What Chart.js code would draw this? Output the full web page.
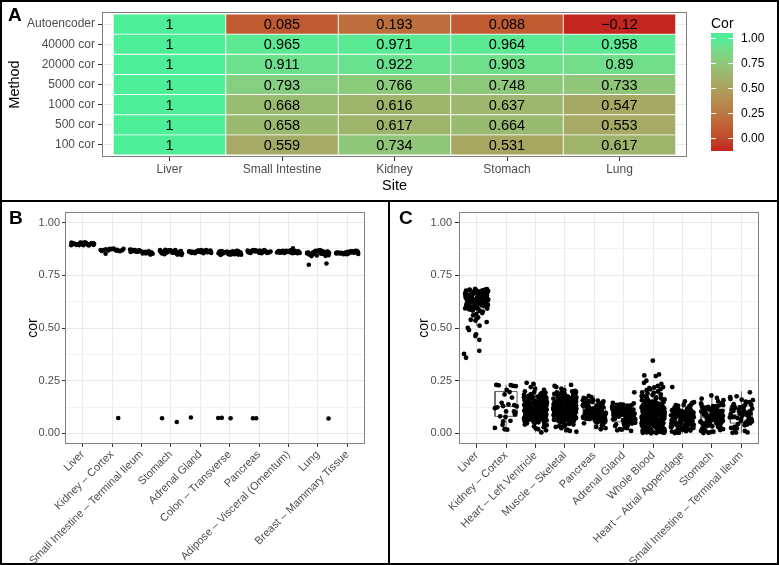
<!DOCTYPE html>
<html>
<head>
<meta charset="utf-8">
<script src="https://cdn.jsdelivr.net/npm/chart.js"></script>
<style>
  body { margin: 0; background: #fff; }
  #wrap { position: relative; width: 779px; height: 565px; overflow: hidden; font-family: "Liberation Sans", Arial, sans-serif; }
  canvas { position: absolute; }
  .frame { position: absolute; box-sizing: border-box; border: 2px solid #000; pointer-events: none; }
  .tag { position: absolute; font-weight: bold; font-size: 19px; line-height: 19px; }
</style>
</head>
<body>
<div id="wrap">
  <canvas id="heat" width="779" height="202" style="left:0;top:0"></canvas>
  <canvas id="gtexB" width="389" height="365" style="left:0;top:200px"></canvas>
  <canvas id="gtexC" width="390" height="365" style="left:389px;top:200px"></canvas>
  <div class="frame" style="left:0;top:0;width:779px;height:202px"></div>
  <div class="frame" style="left:0;top:200px;width:390px;height:365px"></div>
  <div class="frame" style="left:388px;top:200px;width:391px;height:365px"></div>
  <div class="tag" style="left:8px;top:5px">A</div>
  <div class="tag" style="left:9px;top:208px">B</div>
  <div class="tag" style="left:399px;top:208px">C</div>
</div>
<script>
// ---------- panel A : correlation per site and method ----------
var sites = ['Liver', 'Small Intestine', 'Kidney', 'Stomach', 'Lung'];
var methods = ['100 cor', '500 cor', '1000 cor', '5000 cor', '20000 cor', '40000 cor', 'Autoencoder'];
var cor100 = [1, 0.559, 0.734, 0.531, 0.617];
var cor500 = [1, 0.658, 0.617, 0.664, 0.553];
var cor1000 = [1, 0.668, 0.616, 0.637, 0.547];
var cor5000 = [1, 0.793, 0.766, 0.748, 0.733];
var cor20000 = [1, 0.911, 0.922, 0.903, 0.89];
var cor40000 = [1, 0.965, 0.971, 0.964, 0.958];
var corAuto = [1, 0.085, 0.193, 0.088, -0.12];
var legendTicks = [0, 0.25, 0.5, 0.75, 1];

// ---------- panels B and C : per sample correlation ----------
var yGrid = [0, 0.125, 0.25, 0.375, 0.5, 0.625, 0.75, 0.875, 1];
var yMajor = [0, 0.25, 0.5, 0.75, 1];
var yLabels = ['0.00', '0.25', '0.50', '0.75', '1.00'];
// horizontal jitter positions (in category units) reused for every group
var jitter = [-0.31, 0.12, 0.37, -0.05, 0.24, -0.38, 0.02, 0.29, -0.18, 0.33, -0.26, 0.08, -0.12, 0.39, -0.35, 0.17, -0.02, 0.21, -0.29, 0.05,
  0.35, -0.21, 0.14, -0.08, 0.27, -0.39, 0.1, -0.15, 0.31, -0.24, 0.01, 0.19, -0.33, 0.26, -0.1, 0.38, -0.19, 0.07, -0.36, 0.22,
  -0.04, 0.3, -0.27, 0.15, -0.13, 0.34, -0.22, 0.04, 0.25, -0.37, 0.11, -0.07, 0.36, -0.16, 0.2, -0.3, 0.09, -0.01, 0.28, -0.23, 0.16];

var bCats = ['Liver', 'Kidney – Cortex', 'Small Intestine – Terminal Ileum', 'Stomach', 'Adrenal Gland', 'Colon – Transverse',
  'Pancreas', 'Adipose – Visceral (Omentum)', 'Lung', 'Breast – Mammary Tissue'];
var bLiver = [0.899, 0.903, 0.894, 0.901, 0.897, 0.905, 0.892, 0.9, 0.896, 0.902, 0.898, 0.906, 0.893, 0.899, 0.901, 0.895, 0.904, 0.891, 0.9, 0.897, 0.903, 0.894, 0.899, 0.905, 0.898, 0.892, 0.901, 0.896, 0.9, 0.897];
var bKidney = [0.872, 0.868, 0.876, 0.865, 0.871, 0.874, 0.866, 0.87, 0.877, 0.869, 0.873, 0.867, 0.875, 0.864, 0.87];
var bSmallInt = [0.861, 0.868, 0.855, 0.872, 0.858, 0.864, 0.85, 0.869, 0.862, 0.856, 0.871, 0.859, 0.866, 0.852, 0.863, 0.857, 0.87, 0.86, 0.865, 0.849, 0.867, 0.854, 0.862, 0.858, 0.869, 0.853, 0.864, 0.86, 0.856, 0.866];
var bStomach = [0.86, 0.867, 0.853, 0.871, 0.857, 0.863, 0.848, 0.868, 0.861, 0.855, 0.87, 0.858, 0.865, 0.85, 0.862, 0.856, 0.869, 0.859, 0.864, 0.846, 0.866, 0.852, 0.861, 0.857, 0.868, 0.851, 0.863, 0.859, 0.854, 0.865];
var bAdrenal = [0.862, 0.867, 0.857, 0.869, 0.86, 0.864, 0.855, 0.867, 0.861, 0.858, 0.87, 0.856, 0.865, 0.86, 0.863, 0.857, 0.866, 0.861, 0.864, 0.856, 0.867, 0.859, 0.862, 0.86, 0.865, 0.855, 0.863, 0.861, 0.858, 0.864];
var bColon = [0.856, 0.862, 0.849, 0.865, 0.853, 0.859, 0.846, 0.863, 0.857, 0.851, 0.866, 0.854, 0.86, 0.848, 0.858, 0.852, 0.864, 0.855, 0.861, 0.847, 0.862, 0.85, 0.857, 0.853, 0.864, 0.849, 0.859, 0.856, 0.852, 0.861];
var bPancreas = [0.862, 0.867, 0.857, 0.87, 0.86, 0.865, 0.855, 0.868, 0.863, 0.858, 0.869, 0.859, 0.866, 0.856, 0.864, 0.859, 0.868, 0.861, 0.865, 0.856, 0.867, 0.858, 0.863, 0.86, 0.866, 0.857, 0.864, 0.861, 0.859, 0.865];
var bAdipose = [0.861, 0.865, 0.857, 0.867, 0.859, 0.863, 0.855, 0.866, 0.86, 0.858, 0.868, 0.856, 0.864, 0.859, 0.862, 0.857, 0.865, 0.86, 0.863, 0.856, 0.866, 0.858, 0.861, 0.859, 0.864, 0.855, 0.862, 0.878, 0.857, 0.863];
var bLung = [0.855, 0.862, 0.846, 0.867, 0.851, 0.858, 0.842, 0.864, 0.856, 0.848, 0.869, 0.853, 0.86, 0.844, 0.857, 0.85, 0.865, 0.854, 0.861, 0.841, 0.863, 0.847, 0.856, 0.852, 0.866, 0.845, 0.859, 0.855, 0.849, 0.862];
var bBreast = [0.858, 0.863, 0.852, 0.866, 0.855, 0.86, 0.85, 0.864, 0.857, 0.853, 0.865, 0.854, 0.861, 0.851, 0.859, 0.855, 0.863, 0.856, 0.86, 0.85, 0.862, 0.853, 0.858, 0.856, 0.864, 0.851, 0.859, 0.857, 0.854, 0.861];
// stray samples of panel B (category, offset, value)
var bExtraCat = [1, 1, 3, 3, 4, 5, 5, 5, 6, 6, 8, 8, 8];
var bExtraOff = [0.21, -0.22, -0.3, 0.2, -0.32, -0.39, -0.27, 0.03, -0.21, -0.1, 0.36, -0.31, 0.29];
var bExtraVal = [0.073, 0.852, 0.072, 0.054, 0.076, 0.073, 0.074, 0.072, 0.072, 0.072, 0.071, 0.8, 0.806];
var bLo = [0.889, 0.864, 0.849, 0.846, 0.856, 0.846, 0.855, 0.855, 0.841, 0.85];
var bQ1 = [0.896, 0.868, 0.856, 0.855, 0.859, 0.852, 0.859, 0.858, 0.85, 0.854];
var bMed = [0.899, 0.871, 0.861, 0.86, 0.861, 0.857, 0.862, 0.861, 0.856, 0.858];
var bQ3 = [0.902, 0.874, 0.866, 0.865, 0.864, 0.861, 0.865, 0.864, 0.862, 0.861];
var bHi = [0.905, 0.877, 0.872, 0.871, 0.869, 0.866, 0.87, 0.868, 0.869, 0.866];

var cCats = ['Liver', 'Kidney – Cortex', 'Heart – Left Ventricle', 'Muscle – Skeletal', 'Pancreas', 'Adrenal Gland',
  'Whole Blood', 'Heart – Atrial Appendage', 'Stomach', 'Small Intestine – Terminal Ileum'];
var cLiver = [0.652, 0.618, 0.671, 0.595, 0.638, 0.664, 0.607, 0.681, 0.626, 0.645, 0.589, 0.659, 0.632, 0.676, 0.612, 0.648, 0.667, 0.578, 0.641, 0.622,
  0.684, 0.603, 0.655, 0.635, 0.669, 0.593, 0.628, 0.661, 0.615, 0.679, 0.644, 0.571, 0.657, 0.624, 0.673, 0.609, 0.639, 0.666, 0.598, 0.651,
  0.631, 0.682, 0.619, 0.647, 0.583, 0.662, 0.636, 0.674, 0.605, 0.643, 0.627, 0.668, 0.592, 0.654, 0.678, 0.613, 0.637, 0.566, 0.658, 0.621,
  0.672, 0.601, 0.649, 0.634, 0.685, 0.611, 0.653, 0.629, 0.663, 0.586, 0.648, 0.621, 0.669, 0.598, 0.636, 0.661, 0.609, 0.679, 0.628, 0.642,
  0.591, 0.656, 0.634, 0.673, 0.614, 0.646, 0.664, 0.581, 0.639, 0.625, 0.682, 0.606, 0.653, 0.633, 0.667, 0.596, 0.63, 0.659, 0.617, 0.677];
var cLiverLowOff = [-0.43, -0.36, 0.09, 0.09, -0.02, -0.04, -0.3, -0.26, -0.2, 0.34, 0.1, -0.04, 0.0, -0.12, 0.05];
var cLiverLowVal = [0.377, 0.359, 0.392, 0.444, 0.47, 0.462, 0.5, 0.49, 0.539, 0.528, 0.511, 0.535, 0.545, 0.56, 0.55];
var cKidneyOff = [-0.33, -0.25, 0.16, 0.24, 0.33, 0.02, 0.12, -0.05, 0.2, -0.15, -0.3, -0.38, -0.1, 0.08, 0.28, 0.36, 0.0, 0.27, 0.32, -0.2, -0.02, -0.1, -0.12, -0.38, -0.05, 0.04, 0.15, 0.3];
var cKidneyVal = [0.23, 0.228, 0.229, 0.226, 0.224, 0.206, 0.196, 0.185, 0.17, 0.145, 0.124, 0.12, 0.13, 0.138, 0.134, 0.128, 0.104, 0.104, 0.1, 0.081, 0.078, 0.057, 0.041, 0.026, 0.02, 0.018, 0.06, 0.09];
var cHeartLV = [0.112, 0.143, 0.081, 0.172, 0.053, 0.121, 0.188, 0.094, 0.152, 0.071, 0.133, 0.104, 0.178, 0.062, 0.161, 0.116, 0.042, 0.139, 0.197, 0.085,
  0.126, 0.148, 0.091, 0.167, 0.101, 0.129, 0.073, 0.158, 0.109, 0.056, 0.141, 0.186, 0.119, 0.083, 0.098, 0.153, 0.131, 0.064, 0.181, 0.092,
  0.114, 0.163, 0.034, 0.124, 0.137, 0.078, 0.207, 0.103, 0.127, 0.069, 0.174, 0.111, 0.149, 0.088, 0.122, 0.051, 0.191, 0.097, 0.144, 0.079,
  0.134, 0.157, 0.108, 0.061, 0.183, 0.118, 0.093, 0.151, 0.102, 0.024, 0.146, 0.123, 0.075, 0.169, 0.113, 0.128, 0.082, 0.199, 0.106, 0.154,
  0.045, 0.121, 0.162, 0.089, 0.139, 0.107, 0.058, 0.176, 0.132, 0.099, 0.235, 0.015, 0.22, 0.005, 0.24, 0.02, 0.212, 0.03,
  0.117, 0.086, 0.148, 0.063, 0.131, 0.097, 0.172, 0.108, 0.054, 0.139, 0.122, 0.078, 0.159, 0.101, 0.067, 0.144, 0.113, 0.185, 0.091, 0.126,
  0.048, 0.135, 0.104, 0.166, 0.082, 0.119, 0.153, 0.072, 0.109, 0.141, 0.095, 0.178, 0.061, 0.128, 0.087, 0.147, 0.116, 0.039, 0.133, 0.102,
  0.162, 0.076, 0.124, 0.092, 0.155, 0.068, 0.111, 0.193, 0.084, 0.137, 0.099, 0.059, 0.143, 0.115, 0.171, 0.081, 0.127, 0.106, 0.149, 0.073,
  0.12, 0.094, 0.164, 0.057, 0.132, 0.089, 0.114, 0.181, 0.066, 0.141];
var cMuscle = [0.121, 0.085, 0.152, 0.103, 0.176, 0.064, 0.138, 0.097, 0.189, 0.112, 0.045, 0.131, 0.158, 0.074, 0.117, 0.199, 0.092, 0.143, 0.058, 0.126,
  0.168, 0.081, 0.109, 0.147, 0.036, 0.134, 0.181, 0.068, 0.123, 0.095, 0.161, 0.052, 0.115, 0.139, 0.087, 0.194, 0.106, 0.072, 0.149, 0.128,
  0.025, 0.171, 0.098, 0.119, 0.061, 0.155, 0.136, 0.083, 0.186, 0.111, 0.047, 0.141, 0.102, 0.165, 0.076, 0.124, 0.093, 0.178, 0.132, 0.056,
  0.114, 0.153, 0.088, 0.197, 0.107, 0.069, 0.145, 0.127, 0.039, 0.162, 0.099, 0.118, 0.079, 0.174, 0.135, 0.091, 0.157, 0.066, 0.122, 0.184,
  0.104, 0.142, 0.053, 0.129, 0.096, 0.167, 0.113, 0.078, 0.151, 0.031, 0.137, 0.101, 0.191, 0.084, 0.125, 0.159, 0.071, 0.116, 0.146, 0.089,
  0.018, 0.212, 0.008, 0.225, 0.012, 0.205, 0.23, 0.22, 0.015, 0.202, 0.11, 0.13, 0.1, 0.14, 0.12, 0.09, 0.15, 0.06, 0.17, 0.04,
  0.118, 0.143, 0.091, 0.166, 0.073, 0.129, 0.104, 0.187, 0.061, 0.137, 0.112, 0.152, 0.084, 0.124, 0.198, 0.096, 0.141, 0.067, 0.115, 0.173,
  0.089, 0.132, 0.054, 0.157, 0.108, 0.127, 0.079, 0.183, 0.119, 0.099, 0.146, 0.065, 0.134, 0.111, 0.169, 0.086, 0.123, 0.042, 0.155, 0.101,
  0.138, 0.075, 0.192, 0.116, 0.093, 0.149, 0.058, 0.128, 0.106, 0.176, 0.082, 0.136, 0.121, 0.161, 0.071, 0.114, 0.148, 0.097, 0.181, 0.125,
  0.063, 0.142, 0.109, 0.154, 0.088, 0.131, 0.035, 0.167, 0.103, 0.139, 0.078, 0.119, 0.195, 0.092, 0.145, 0.113, 0.059, 0.158, 0.126, 0.084,
  0.171, 0.107, 0.133, 0.069, 0.151, 0.098, 0.122, 0.188, 0.081, 0.144];
var cPancreas = [0.095, 0.071, 0.122, 0.058, 0.108, 0.136, 0.083, 0.149, 0.067, 0.114, 0.091, 0.128, 0.052, 0.103, 0.142, 0.077, 0.118, 0.088, 0.155, 0.063,
  0.099, 0.131, 0.074, 0.111, 0.046, 0.125, 0.086, 0.145, 0.069, 0.106, 0.093, 0.138, 0.057, 0.119, 0.081, 0.164, 0.101, 0.072, 0.127, 0.089,
  0.113, 0.061, 0.134, 0.097, 0.078, 0.152, 0.105, 0.066, 0.121, 0.084, 0.038, 0.172, 0.025, 0.178, 0.031, 0.168, 0.02, 0.158, 0.042, 0.147,
  0.09, 0.11, 0.08, 0.12, 0.1, 0.07, 0.13, 0.06, 0.097, 0.074, 0.119, 0.061, 0.105, 0.133, 0.084, 0.146, 0.069, 0.112, 0.088, 0.126,
  0.055, 0.101, 0.139, 0.079, 0.116, 0.092, 0.153, 0.065, 0.108, 0.129, 0.076, 0.098, 0.048, 0.122, 0.087, 0.142, 0.071, 0.103,
  0.094, 0.135, 0.059, 0.114, 0.082, 0.157, 0.099, 0.068, 0.124, 0.09];
var cAdrenal = [0.085, 0.062, 0.108, 0.047, 0.096, 0.123, 0.071, 0.132, 0.055, 0.101, 0.079, 0.115, 0.041, 0.091, 0.127, 0.066, 0.104, 0.076, 0.138, 0.051,
  0.088, 0.118, 0.063, 0.098, 0.035, 0.112, 0.074, 0.129, 0.058, 0.094, 0.082, 0.121, 0.045, 0.106, 0.069, 0.135, 0.089, 0.061, 0.113, 0.078,
  0.099, 0.052, 0.119, 0.086, 0.067, 0.131, 0.093, 0.057, 0.109, 0.072, 0.021, 0.142, 0.015, 0.028, 0.012, 0.145, 0.025, 0.018, 0.195, 0.08,
  0.09, 0.07, 0.1, 0.06, 0.11, 0.087, 0.064, 0.106, 0.049, 0.094, 0.121, 0.073, 0.129, 0.057, 0.099, 0.081, 0.113, 0.043, 0.089, 0.125,
  0.068, 0.102, 0.077, 0.136, 0.053, 0.091, 0.116, 0.061, 0.096, 0.038, 0.111, 0.075, 0.127, 0.059, 0.092, 0.084, 0.119, 0.047, 0.104, 0.071,
  0.133, 0.088, 0.063, 0.109, 0.079];
var cBlood = [0.072, 0.041, 0.118, 0.025, 0.095, 0.153, 0.058, 0.132, 0.012, 0.087, 0.064, 0.109, 0.034, 0.176, 0.078, 0.049, 0.141, 0.019, 0.101, 0.067,
  0.125, 0.029, 0.084, 0.162, 0.053, 0.113, 0.008, 0.092, 0.137, 0.045, 0.071, 0.189, 0.038, 0.104, 0.061, 0.148, 0.016, 0.081, 0.121, 0.055,
  0.097, 0.005, 0.068, 0.133, 0.043, 0.171, 0.088, 0.022, 0.115, 0.059, 0.142, 0.033, 0.076, 0.106, 0.048, 0.199, 0.065, 0.127, 0.011, 0.093,
  0.052, 0.158, 0.037, 0.083, 0.119, 0.026, 0.074, 0.145, 0.057, 0.102, 0.003, 0.089, 0.182, 0.046, 0.128, 0.069, 0.018, 0.111, 0.062, 0.138,
  0.031, 0.079, 0.166, 0.051, 0.098, 0.014, 0.123, 0.066, 0.039, 0.107, 0.209, 0.021, 0.086, 0.151, 0.044, 0.116, 0.07, 0.006, 0.135, 0.054,
  0.215, 0.22, 0.205, 0.218, 0.21, 0.195, 0.002, 0.001, 0.004, 0.009, 0.28, 0.275, 0.272, 0.345, 0.235, 0.25, 0.225, 0.24,
  0.06, 0.08, 0.1, 0.04, 0.12, 0.09, 0.05, 0.07, 0.078, 0.043, 0.112, 0.027, 0.091, 0.134, 0.062, 0.151, 0.016, 0.085,
  0.057, 0.124, 0.035, 0.098, 0.071, 0.167, 0.048, 0.109, 0.023, 0.082, 0.139, 0.066, 0.101, 0.039, 0.185, 0.074, 0.118, 0.052, 0.093, 0.013,
  0.129, 0.061, 0.087, 0.146, 0.031, 0.105, 0.069, 0.172, 0.045, 0.096, 0.058, 0.122, 0.018, 0.083, 0.157, 0.041, 0.114, 0.075, 0.007, 0.136,
  0.064, 0.099, 0.028, 0.143, 0.079, 0.053, 0.117, 0.036, 0.192, 0.088, 0.047, 0.126, 0.068, 0.104, 0.021, 0.161, 0.081, 0.056, 0.131, 0.033,
  0.094, 0.073, 0.148, 0.044, 0.108, 0.011, 0.086, 0.177, 0.059, 0.121, 0.038, 0.097, 0.065, 0.141, 0.026, 0.113, 0.077, 0.004, 0.154, 0.051];
var cAtrial = [0.068, 0.045, 0.092, 0.027, 0.079, 0.118, 0.053, 0.104, 0.014, 0.086, 0.061, 0.131, 0.036, 0.075, 0.097, 0.021, 0.112, 0.057, 0.083, 0.041,
  0.125, 0.066, 0.009, 0.094, 0.049, 0.138, 0.072, 0.031, 0.101, 0.058, 0.087, 0.018, 0.115, 0.063, 0.039, 0.107, 0.077, 0.005, 0.121, 0.051,
  0.095, 0.024, 0.069, 0.134, 0.044, 0.082, 0.011, 0.099, 0.059, 0.127, 0.034, 0.074, 0.109, 0.047, 0.145, 0.002, 0.152, 0.003, 0.148, 0.22,
  0.06, 0.08, 0.07, 0.05, 0.09, 0.1, 0.04, 0.071, 0.047, 0.094, 0.029, 0.082, 0.116, 0.055, 0.101, 0.017, 0.088,
  0.063, 0.128, 0.038, 0.077, 0.099, 0.023, 0.109, 0.059, 0.085, 0.043, 0.122, 0.068, 0.012, 0.096, 0.051, 0.135, 0.074, 0.033, 0.103, 0.061,
  0.089, 0.02, 0.113, 0.065, 0.041, 0.105, 0.079, 0.008, 0.118, 0.053, 0.093, 0.026, 0.067, 0.131, 0.046];
var cStomach = [0.076, 0.052, 0.101, 0.034, 0.088, 0.124, 0.061, 0.113, 0.021, 0.093, 0.069, 0.137, 0.043, 0.082, 0.106, 0.027, 0.118, 0.058, 0.091, 0.047,
  0.129, 0.072, 0.012, 0.098, 0.055, 0.145, 0.079, 0.038, 0.109, 0.064, 0.095, 0.016, 0.121, 0.067, 0.041, 0.114, 0.084, 0.006, 0.132, 0.057,
  0.103, 0.029, 0.074, 0.141, 0.049, 0.087, 0.003, 0.158, 0.165, 0.168, 0.18, 0.152, 0.002, 0.008, 0.07, 0.09, 0.06, 0.08,
  0.078, 0.054, 0.099, 0.036, 0.086, 0.121, 0.063, 0.111, 0.023, 0.091, 0.071, 0.134, 0.045, 0.084, 0.104, 0.029, 0.116, 0.06, 0.089, 0.049,
  0.126, 0.074, 0.014, 0.096, 0.057, 0.142, 0.081, 0.04, 0.107, 0.066, 0.093, 0.018, 0.119, 0.069, 0.043, 0.112, 0.082, 0.009, 0.129, 0.059];
var cSmallInt = [0.091, 0.062, 0.124, 0.048, 0.107, 0.151, 0.073, 0.135, 0.021, 0.098, 0.081, 0.163, 0.039, 0.115, 0.057, 0.176, 0.086, 0.003, 0.129, 0.067,
  0.104, 0.031, 0.145, 0.077, 0.012, 0.118, 0.094, 0.052, 0.172, 0.083, 0.195, 0.004, 0.069, 0.139, 0.112, 0.044, 0.158, 0.026, 0.099, 0.059,
  0.005, 0.127, 0.088, 0.065, 0.121, 0.051, 0.104, 0.148, 0.076, 0.132, 0.024, 0.095, 0.079, 0.16, 0.042, 0.112, 0.06];
var cLo = [0.51, 0.018, 0.005, 0.005, 0.02, 0.01, 0.0, 0.0, 0.0, 0.0];
var cQ1 = [0.595, 0.081, 0.08, 0.085, 0.065, 0.055, 0.04, 0.04, 0.045, 0.049];
var cMed = [0.628, 0.128, 0.115, 0.12, 0.095, 0.085, 0.08, 0.07, 0.075, 0.087];
var cQ3 = [0.655, 0.199, 0.15, 0.155, 0.125, 0.11, 0.125, 0.1, 0.11, 0.131];
var cHi = [0.685, 0.231, 0.24, 0.23, 0.18, 0.145, 0.22, 0.15, 0.18, 0.2];

Chart.defaults.font.family = '"Liberation Sans", Arial, sans-serif';

// colour scale: lab interpolation between low and high (like ggplot)
var lowColor = '#C3251F', highColor = '#4EEE98';
var allCor = [].concat(cor100, cor500, cor1000, cor5000, cor20000, cor40000, corAuto);
var corMin = Math.min.apply(null, allCor), corMax = Math.max.apply(null, allCor);

function hexRgb(h) { return [1, 3, 5].map(function (i) { return parseInt(h.substr(i, 2), 16); }); }
function toLab(rgb) {
    var l = rgb.map(function (c) { c /= 255; return c <= 0.04045 ? c / 12.92 : Math.pow((c + 0.055) / 1.055, 2.4); });
    var x = (l[0] * 0.4124 + l[1] * 0.3576 + l[2] * 0.1805) / 0.95047;
    var y = l[0] * 0.2126 + l[1] * 0.7152 + l[2] * 0.0722;
    var z = (l[0] * 0.0193 + l[1] * 0.1192 + l[2] * 0.9505) / 1.08883;
    var f = function (t) { return t > 0.008856 ? Math.cbrt(t) : 7.787 * t + 16 / 116; };
    return [116 * f(y) - 16, 500 * (f(x) - f(y)), 200 * (f(y) - f(z))];
}
function fromLab(lab) {
    var fy = (lab[0] + 16) / 116, fx = fy + lab[1] / 500, fz = fy - lab[2] / 200;
    var fi = function (t) { return t * t * t > 0.008856 ? t * t * t : (t - 16 / 116) / 7.787; };
    var x = fi(fx) * 0.95047, y = fi(fy), z = fi(fz) * 1.08883;
    var rgb = [x * 3.2406 - y * 1.5372 - z * 0.4986, -x * 0.9689 + y * 1.8758 + z * 0.0415, x * 0.0557 - y * 0.2040 + z * 1.0570];
    return 'rgb(' + rgb.map(function (c) {
        c = c <= 0.0031308 ? 12.92 * c : 1.055 * Math.pow(c, 1 / 2.4) - 0.055;
        return Math.round(Math.min(1, Math.max(0, c)) * 255);
    }).join(',') + ')';
}
var lowLab = toLab(hexRgb(lowColor)), highLab = toLab(hexRgb(highColor));
function fillFor(v) {
    var t = Math.min(1, Math.max(0, (v - corMin) / (corMax - corMin)));
    return fromLab(lowLab.map(function (c, i) { return c + (highLab[i] - c) * t; }));
}

// gray frame round every plotting panel
var panelBorder = {
    id: 'panelBorder',
    afterDatasetsDraw: function (chart) {
        var a = chart.chartArea, ctx = chart.ctx;
        ctx.save();
        ctx.strokeStyle = '#808080';
        ctx.lineWidth = 1;
        ctx.strokeRect(Math.round(a.left) + 0.5, Math.round(a.top) + 0.5, Math.round(a.right - a.left) - 1, Math.round(a.bottom - a.top) - 1);
        ctx.restore();
    }
};

// ---------- heatmap ----------
var corByMethod = [cor100, cor500, cor1000, cor5000, cor20000, cor40000, corAuto];
var cells = [], cellColors = [];
corByMethod.forEach(function (row, r) {
    row.forEach(function (v, c) {
        cells.push({ x: c, y: [r - 0.5, r + 0.5], v: v });
        cellColors.push(fillFor(v));
    });
});

var cellText = {
    id: 'cellText',
    afterDatasetsDraw: function (chart) {
        var ctx = chart.ctx, sx = chart.scales.x, sy = chart.scales.y;
        ctx.save();
        ctx.font = '14.5px "Liberation Sans", Arial, sans-serif';
        ctx.fillStyle = '#000';
        ctx.textAlign = 'center';
        ctx.textBaseline = 'middle';
        chart.data.datasets[0].data.forEach(function (d) {
            ctx.fillText(String(d.v).replace('-', '\u2212'), sx.getPixelForValue(d.x), sy.getPixelForValue((d.y[0] + d.y[1]) / 2) + 1);
        });
        ctx.restore();
    }
};

var colorBar = {
    id: 'colorBar',
    afterDraw: function (chart) {
        var ctx = chart.ctx;
        var bx = 711, bw = 22, top = 33, bottom = 151, y1 = 37.7, unit = 100;
        ctx.save();
        for (var y = top; y < bottom; y++) {
            ctx.fillStyle = fillFor(1 - (y + 0.5 - y1) / unit);
            ctx.fillRect(bx, y, bw, 1);
        }
        ctx.strokeStyle = '#fff';
        ctx.lineWidth = 1;
        ctx.font = '12px "Liberation Sans", Arial, sans-serif';
        ctx.textBaseline = 'middle';
        legendTicks.forEach(function (v) {
            var ty = Math.round(y1 + (1 - v) * unit) + 0.5;
            ctx.beginPath();
            ctx.moveTo(bx, ty); ctx.lineTo(bx + 5, ty);
            ctx.moveTo(bx + bw - 5, ty); ctx.lineTo(bx + bw, ty);
            ctx.stroke();
            ctx.fillStyle = '#000';
            ctx.fillText(v.toFixed(2), 741, ty);
        });
        ctx.font = '14px "Liberation Sans", Arial, sans-serif';
        ctx.fillText('Cor', 711, 24);
        ctx.restore();
    }
};

new Chart(document.getElementById('heat'), {
    type: 'bar',
    data: {
        datasets: [{
            data: cells,
            backgroundColor: cellColors,
            borderColor: '#ffffff',
            borderWidth: 0.8,
            borderSkipped: false,
            barPercentage: 1,
            categoryPercentage: 1
        }]
    },
    options: {
        responsive: false,
        animation: false,
        events: [],
        layout: { padding: { left: 0, right: 92, top: 12, bottom: 0 } },
        plugins: { legend: { display: false }, tooltip: { enabled: false } },
        scales: {
            x: {
                type: 'linear', min: -0.6, max: sites.length - 0.4, offset: false,
                afterBuildTicks: function (s) { s.ticks = sites.map(function (n, i) { return { value: i }; }); },
                afterFit: function (s) { s.height = 45; },
                grid: { offset: false, color: '#ebebeb', tickColor: '#333', tickLength: 4 },
                border: { display: false },
                ticks: { autoSkip: false, maxRotation: 0, color: '#4d4d4d', font: { size: 12 }, padding: 1,
                    callback: function (v) { return sites[v]; } },
                title: { display: true, text: 'Site', color: '#000', font: { size: 14.5 }, padding: { top: 0, bottom: 7.6 } }
            },
            y: {
                type: 'linear', min: -0.6, max: methods.length - 0.4,
                afterBuildTicks: function (s) { s.ticks = methods.map(function (n, i) { return { value: i }; }); },
                afterFit: function (s) { s.width = 102; },
                grid: { color: '#ebebeb', tickColor: '#333', tickLength: 4 },
                border: { display: false },
                ticks: { autoSkip: false, color: '#4d4d4d', font: { size: 12 }, padding: 3,
                    callback: function (v) { return methods[v]; } },
                title: { display: true, text: 'Method', color: '#000', font: { size: 14.5 }, padding: { top: 6.6, bottom: 0 } }
            }
        }
    },
    plugins: [cellText, panelBorder, colorBar]
});

// ---------- jitter + box charts ----------
function jitterChart(id, cats, groups, extraCat, extraOff, extraVal, lo, q1, med, q3, hi, opt) {
    var pts = [];
    groups.forEach(function (vals, c) {
        vals.forEach(function (v, k) {
            pts.push({ x: c + jitter[(k + c * 11) % jitter.length], y: v });
        });
    });
    extraVal.forEach(function (v, k) { pts.push({ x: extraCat[k] + extraOff[k], y: v }); });

    var w = 0.375, box = [];
    cats.forEach(function (n, i) {
        box.push({ x: i, y: lo[i] }, { x: i, y: q1[i] }, { x: i, y: null });
        box.push({ x: i, y: q3[i] }, { x: i, y: hi[i] }, { x: i, y: null });
        box.push({ x: i - w, y: q1[i] }, { x: i + w, y: q1[i] }, { x: i + w, y: q3[i] }, { x: i - w, y: q3[i] }, { x: i - w, y: q1[i] }, { x: i, y: null });
        box.push({ x: i - w, y: med[i] }, { x: i + w, y: med[i] }, { x: i, y: null });
    });

    return new Chart(document.getElementById(id), {
        type: 'scatter',
        data: {
            datasets: [
                { data: pts, pointRadius: opt.radius, pointBackgroundColor: '#000', pointBorderWidth: 0, order: 0 },
                { data: box, showLine: true, spanGaps: false, pointRadius: 0, borderColor: '#555', borderWidth: 0.9, order: 1 }
            ]
        },
        options: {
            responsive: false,
            animation: false,
            events: [],
            layout: { padding: { left: 0, right: opt.right, top: 12, bottom: 0 } },
            plugins: { legend: { display: false }, tooltip: { enabled: false } },
            scales: {
                x: {
                    type: 'linear', min: -0.6, max: cats.length - 0.4,
                    afterBuildTicks: function (s) { s.ticks = cats.map(function (n, i) { return { value: i }; }); },
                    afterFit: function (s) { s.height = 121; },
                    grid: { color: '#ebebeb', tickColor: '#333', tickLength: opt.tick },
                    border: { display: false },
                    ticks: { autoSkip: false, minRotation: 45, maxRotation: 45, color: '#4d4d4d', font: { size: 11 }, padding: 1,
                        callback: function (v) { return cats[v]; } }
                },
                y: {
                    min: -0.05, max: 1.05,
                    afterBuildTicks: function (s) { s.ticks = yGrid.map(function (v) { return { value: v }; }); },
                    afterFit: function (s) { s.width = opt.left; },
                    grid: {
                        color: function (c) { return yMajor.indexOf(c.tick.value) < 0 ? '#f3f3f3' : '#e8e8e8'; },
                        tickColor: function (c) { return yMajor.indexOf(c.tick.value) < 0 ? 'rgba(0,0,0,0)' : '#333'; },
                        tickLength: opt.tick
                    },
                    border: { display: false },
                    ticks: { autoSkip: false, color: '#4d4d4d', font: { size: 11 }, padding: opt.pad,
                        callback: function (v) { var i = yMajor.indexOf(v); return i < 0 ? '' : yLabels[i]; } },
                    title: { display: true, text: 'cor', color: '#000', font: { size: 14 }, padding: { top: opt.titleTop, bottom: 0 } }
                }
            }
        },
        plugins: [panelBorder]
    });
}

jitterChart('gtexB', bCats,
    [bLiver, bKidney, bSmallInt, bStomach, bAdrenal, bColon, bPancreas, bAdipose, bLung, bBreast],
    bExtraCat, bExtraOff, bExtraVal, bLo, bQ1, bMed, bQ3, bHi,
    { left: 65, right: 24, tick: 3, pad: 2, titleTop: 24.6, radius: 2.3 });

var cExtraCat = cLiverLowOff.map(function () { return 0; }).concat(cKidneyOff.map(function () { return 1; }));
jitterChart('gtexC', cCats,
    [cLiver, [], cHeartLV, cMuscle, cPancreas, cAdrenal, cBlood, cAtrial, cStomach, cSmallInt],
    cExtraCat, cLiverLowOff.concat(cKidneyOff), cLiverLowVal.concat(cKidneyVal), cLo, cQ1, cMed, cQ3, cHi,
    { left: 70, right: 20, tick: 4, pad: 3, titleTop: 26.6, radius: 2.4 });
</script>
</body>
</html>
